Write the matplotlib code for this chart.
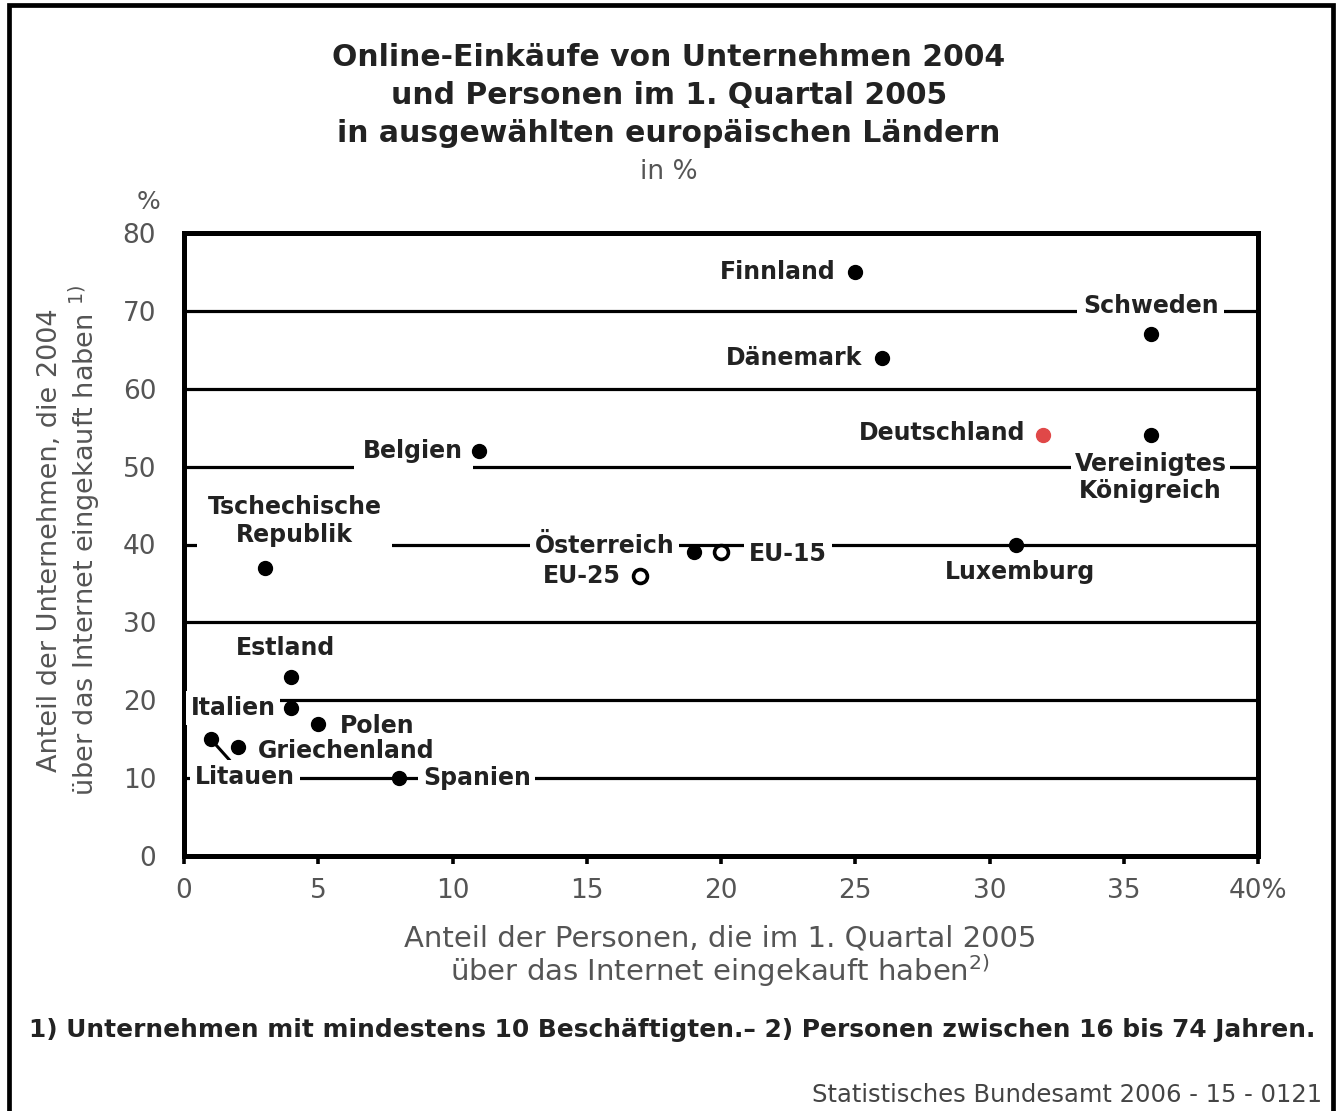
import matplotlib.pyplot as plt
from matplotlib.patches import Rectangle

# --- data ---
laender = ["Finnland", "Schweden", "Dänemark", "Deutschland", "Vereinigtes\nKönigreich",
           "Belgien", "Tschechische\nRepublik", "Österreich", "EU-15", "EU-25",
           "Luxemburg", "Estland", "Italien", "Polen", "Griechenland", "Litauen", "Spanien"]
personen = [25, 36, 26, 32, 36, 11, 3, 19, 20, 17, 31, 4, 4, 5, 2, 1, 8]
unternehmen = [75, 67, 64, 54, 54, 52, 37, 39, 39, 36, 40, 23, 19, 17, 14, 15, 10]

xticks = [0, 5, 10, 15, 20, 25, 30, 35, 40]
xticklabels = ["0", "5", "10", "15", "20", "25", "30", "35", "40%"]
yticks = [0, 10, 20, 30, 40, 50, 60, 70, 80]

# label placement (pixel offsets from the point, ha, va)
lab_style = {
    "Finnland": (-20, 0, "right", "center"),
    "Schweden": (0, 28, "center", "center"),
    "Dänemark": (-20, 0, "right", "center"),
    "Deutschland": (-18, 2, "right", "center"),
    "Vereinigtes\nKönigreich": (0, -42, "center", "center"),
    "Belgien": (-16, 0, "right", "center"),
    "Tschechische\nRepublik": (30, 47, "center", "center"),
    "Österreich": (-20, 6, "right", "center"),
    "EU-15": (28, -2, "left", "center"),
    "EU-25": (-20, 0, "right", "center"),
    "Luxemburg": (4, -27, "center", "center"),
    "Estland": (-6, 29, "center", "center"),
    "Italien": (-16, 0, "right", "center"),
    "Polen": (22, -2, "left", "center"),
    "Griechenland": (20, -4, "left", "center"),
    "Litauen": (34, -38, "center", "center"),
    "Spanien": (24, 0, "left", "center"),
}
pads = {"Belgien": 0.4, "Tschechische\nRepublik": 0.45, "Schweden": 0.25,
        "Vereinigtes\nKönigreich": 0.15}

plt.rcParams['font.family'] = ['DejaVu Sans']
fig = plt.figure(figsize=(13.38, 11.11), dpi=100)
ax = fig.add_axes([184/1338, 1-856/1111, (1258-184)/1338, (856-233)/1111])

ax.set_xlim(0, 40)
ax.set_ylim(0, 80)
for y in yticks[1:-1]:
    ax.axhline(y, color="black", lw=2.3, zorder=1)

for s in ax.spines.values():
    s.set_linewidth(3.6)
    s.set_zorder(1.5)

ax.set_xticks(xticks)
ax.set_xticklabels(xticklabels)
ax.set_yticks(yticks)
ax.tick_params(axis="x", direction="out", length=6, width=2.6, pad=10,
               labelsize=19, labelcolor="#555555")
ax.tick_params(axis="y", length=0, pad=20, labelsize=19, labelcolor="#555555")

px = 72 / 100
for name, xv, yv in zip(laender, personen, unternehmen):
    if name.startswith("EU"):
        ax.plot(xv, yv, "o", ms=10, mfc="white", mec="black", mew=2.6, zorder=5)
    elif name == "Deutschland":
        ax.plot(xv, yv, "o", ms=10, color="#e04848", mec="#e04848", zorder=5)
    else:
        ax.plot(xv, yv, "o", ms=10, color="black", zorder=4)
    dx, dy, ha, va = lab_style[name]
    arrow = None
    if name == "Litauen":
        arrow = dict(arrowstyle="-", lw=2.2, color="black", shrinkA=0, shrinkB=4)
    ax.annotate(name, (xv, yv), xytext=(dx*px, dy*px), textcoords="offset points",
                ha=ha, va=va, fontsize=17, fontweight="bold", color="#222222",
                linespacing=1.2, zorder=3, annotation_clip=False,
                bbox=dict(boxstyle="square,pad=%s" % pads.get(name, 0.2), fc="white", ec="none"),
                arrowprops=arrow)

ax.text(-0.033, 1.03, "%", transform=ax.transAxes, fontsize=18, color="#555555",
        ha="center", va="bottom")

# titles
tkw = dict(ha="center", va="center", fontsize=21.5, fontweight="bold", color="#222222")
fig.text(0.5, 1-57/1111, "Online-Einkäufe von Unternehmen 2004", **tkw)
fig.text(0.5, 1-95/1111, "und Personen im 1. Quartal 2005", **tkw)
fig.text(0.5, 1-134/1111, "in ausgewählten europäischen Ländern", **tkw)
fig.text(0.5, 1-172/1111, "in %", ha="center", va="center", fontsize=19, color="#555555")

fig.text(720/1338, 1-957/1111,
         "Anteil der Personen, die im 1. Quartal 2005\nüber das Internet eingekauft haben$^{2)}$",
         ha="center", va="center", fontsize=21, color="#555555", linespacing=1.0)
fig.text(70/1338, 1-540/1111,
         "Anteil der Unternehmen, die 2004\nüber das Internet eingekauft haben $^{1)}$",
         ha="center", va="center", rotation=90, fontsize=19.5, color="#555555", linespacing=1.15)

fig.text(672/1338, 1-1030/1111,
         "1) Unternehmen mit mindestens 10 Beschäftigten.– 2) Personen zwischen 16 bis 74 Jahren.",
         ha="center", va="center", fontsize=17.9, fontweight="bold", color="#222222")
fig.text(1322/1338, 1-1095/1111, "Statistisches Bundesamt 2006 - 15 - 0121",
         ha="right", va="center", fontsize=17.5, color="#444444")

# outer frame
fig.patches.append(Rectangle((9/1338, -0.02), (1333-9)/1338, 1.02-5/1111,
                             transform=fig.transFigure, fill=False, ec="black", lw=3.4))

fig.savefig("out.png", dpi=100)
